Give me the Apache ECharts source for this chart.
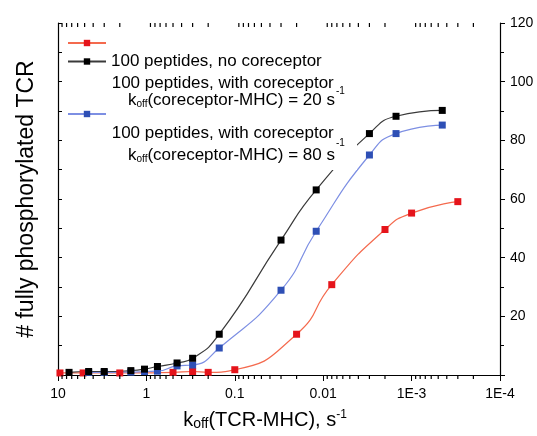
<!DOCTYPE html>
<html>
<head>
<meta charset="utf-8">
<script src="https://cdn.jsdelivr.net/npm/echarts@6/dist/echarts.min.js"></script>
<style>
  html, body { margin: 0; padding: 0; background: #fff; }
  #main { width: 537px; height: 436px; }
</style>
</head>
<body>
<div id="main"></div>
<script>
// koff(TCR-MHC) in s^-1
var koffBlack = [7.5, 4.5, 3, 1.5, 1.05, 0.75, 0.45, 0.3, 0.15, 0.03, 0.012, 0.003, 0.0015, 0.00045];
var tcrBlack = [0.9, 1.2, 1.2, 1.5, 2.0, 2.9, 4.1, 5.7, 13.9, 46.0, 63.1, 82.3, 88.2, 90.2];
var koffBlue = [4.5, 3, 1.5, 1.05, 0.75, 0.45, 0.3, 0.15, 0.03, 0.012, 0.003, 0.0015, 0.00045];
var tcrBlue = [0.9, 0.9, 1.0, 1.2, 1.3, 3.1, 3.4, 9.2, 28.9, 49.0, 75.0, 82.3, 85.2];
var koffRed = [9.5, 5.2, 2, 0.5, 0.3, 0.2, 0.1, 0.02, 0.008, 0.002, 0.001, 0.0003];
var tcrRed = [0.7, 0.7, 0.7, 0.9, 1.2, 0.9, 1.8, 13.9, 30.8, 49.6, 55.2, 59.1];

// decade labels, from 1E-4 up to 10
var xTickLabels = ['1E-4', '1E-3', '0.01', '0.1', '1', '10'];
var minorSteps = [2, 3, 4, 5, 6, 7, 8, 9];
var decades = [-4, -3, -2, -1, 0];

var font = 'Liberation Sans, Arial, Helvetica, sans-serif';

function pairs(xs, ys) {
  var out = [];
  for (var i = 0; i < xs.length; i++) out.push([xs[i], ys[i]]);
  return out;
}

var minorTicks = [];
decades.forEach(function (d) {
  minorSteps.forEach(function (m) { minorTicks.push(m * Math.pow(10, d)); });
});

function lineSeries(name, xs, ys, lineColor, markColor) {
  return {
    name: name,
    type: 'line',
    data: pairs(xs, ys),
    smooth: 0.55,
    symbol: 'rect',
    symbolSize: 7,
    lineStyle: { color: lineColor, width: 1.2 },
    itemStyle: { color: markColor },
    z: 3
  };
}

var koffRich = {
  k: { fontSize: 17, fontFamily: font, fill: '#000', lineHeight: 18 },
  o: { fontSize: 10, fontFamily: font, fill: '#000', lineHeight: 12, verticalAlign: 'bottom' }
};

var labelGraphics = [
  // white patch where the legend box hides the black curve
  { type: 'rect', shape: { x: 300, y: 110, width: 57, height: 60 }, style: { fill: '#fff' }, z: 50 },
  { type: 'text', x: 111.7, y: 83.3, z: 60,
    style: { text: '100 peptides, with coreceptor', font: '17px ' + font, fill: '#000', verticalAlign: 'middle' } },
  { type: 'text', x: 128, y: 100, z: 60,
    style: { text: '{k|k}{o|off}{k|(coreceptor-MHC) = 20 s}', verticalAlign: 'middle', rich: koffRich } },
  { type: 'text', x: 336, y: 91.7, z: 60,
    style: { text: '-1', font: '10px ' + font, fill: '#000', verticalAlign: 'middle' } },
  { type: 'text', x: 111.7, y: 133.3, z: 60,
    style: { text: '100 peptides, with coreceptor', font: '17px ' + font, fill: '#000', verticalAlign: 'middle' } },
  { type: 'text', x: 336, y: 143.3, z: 60,
    style: { text: '-1', font: '10px ' + font, fill: '#000', verticalAlign: 'middle' } },
  { type: 'text', x: 128, y: 155, z: 60,
    style: { text: '{k|k}{o|off}{k|(coreceptor-MHC) = 80 s}', verticalAlign: 'middle', rich: koffRich } }
];

var chart = echarts.init(document.getElementById('main'));
chart.setOption({
  animation: false,
  backgroundColor: '#fff',
  grid: { left: 58, right: 37, top: 23, bottom: 58 },
  legend: [{
    data: ['red'], left: 67, top: 39, padding: 0, itemWidth: 38, itemHeight: 8,
    selectedMode: false, formatter: function () { return ''; }
  }, {
    data: ['black'], left: 67, top: 53, padding: 0, itemWidth: 38, itemHeight: 8,
    selectedMode: false,
    formatter: function () { return '100 peptides, no coreceptor'; },
    textStyle: { fontSize: 17, fontFamily: font, color: '#000' }
  }, {
    data: ['blue'], left: 67, top: 110, padding: 0, itemWidth: 38, itemHeight: 8,
    selectedMode: false, formatter: function () { return ''; }
  }],
  xAxis: [{
    type: 'log',
    logBase: 10,
    min: 0.0001,
    max: 10,
    inverse: true,
    position: 'bottom',
    axisLine: { lineStyle: { color: '#000', width: 1.2 } },
    axisTick: { inside: false, length: 6, lineStyle: { color: '#000' } },
    splitLine: { show: false },
    axisLabel: {
      margin: 12, fontSize: 14, fontFamily: font, color: '#000',
      formatter: function (v) { return xTickLabels[Math.round(Math.log10(v)) + 4]; }
    },
    name: '{k|k}{o|off}{k|(TCR-MHC), s}{s|-1}',
    nameLocation: 'middle',
    nameGap: 34,
    nameTextStyle: {
      padding: [0, 28, 0, 0],
      rich: {
        k: { fontSize: 20, fontFamily: font, color: '#000', lineHeight: 22 },
        o: { fontSize: 14, fontFamily: font, color: '#000', lineHeight: 8, verticalAlign: 'bottom' },
        s: { fontSize: 12, fontFamily: font, color: '#000', lineHeight: 12, verticalAlign: 'top' }
      }
    }
  }, {
    type: 'log',
    logBase: 10,
    min: 0.0001,
    max: 10,
    inverse: true,
    position: 'top',
    axisLine: { lineStyle: { color: '#000', width: 1.2 } },
    axisTick: { inside: true, length: 6, lineStyle: { color: '#000' } },
    axisLabel: { show: false },
    splitLine: { show: false }
  }],
  yAxis: [{
    type: 'value',
    min: 0,
    max: 120,
    interval: 20,
    position: 'right',
    axisLine: { show: true, lineStyle: { color: '#000', width: 1.2 } },
    axisTick: { show: true, inside: false, length: 5, lineStyle: { color: '#000' } },
    minorTick: { show: true, splitNumber: 2, length: 4, lineStyle: { color: '#000' } },
    splitLine: { show: false },
    axisLabel: { margin: 10, fontSize: 14, fontFamily: font, color: '#000', showMinLabel: false }
  }, {
    type: 'value',
    min: 0,
    max: 120,
    interval: 10,
    position: 'left',
    axisLine: { show: true, lineStyle: { color: '#000', width: 1.2 } },
    axisTick: { show: true, inside: true, length: 4, lineStyle: { color: '#000' } },
    splitLine: { show: false },
    axisLabel: { show: false },
    name: '# fully phosphorylated TCR',
    nameLocation: 'middle',
    nameGap: 20,
    nameTextStyle: { fontSize: 23, fontFamily: font, color: '#000' }
  }],
  graphic: labelGraphics,
  series: [
    lineSeries('red', koffRed, tcrRed, '#f46a4e', '#e5141b'),
    lineSeries('blue', koffBlue, tcrBlue, '#7d8fe3', '#2e4fb5'),
    lineSeries('black', koffBlack, tcrBlack, '#3a3a3a', '#000000')
  ]
});

// log-spaced minor ticks, placed through the axis scale: bottom outside, top inside
// drawn on their own layer so nothing under the axis line hides them
var tickMarks = [];
minorTicks.forEach(function (v) {
  var b = chart.convertToPixel({ xAxisIndex: 0, yAxisIndex: 0 }, [v, 0]);
  var t = chart.convertToPixel({ xAxisIndex: 0, yAxisIndex: 0 }, [v, 120]);
  tickMarks.push({ type: 'line', zlevel: 1, z: 5, silent: true,
    shape: { x1: b[0], y1: b[1], x2: b[0], y2: b[1] + 4 }, style: { stroke: '#000', lineWidth: 1.2 } });
  tickMarks.push({ type: 'line', zlevel: 1, z: 5, silent: true,
    shape: { x1: t[0], y1: t[1], x2: t[0], y2: t[1] + 4 }, style: { stroke: '#000', lineWidth: 1.2 } });
});
chart.setOption({ graphic: labelGraphics.concat(tickMarks) });
</script>
</body>
</html>
